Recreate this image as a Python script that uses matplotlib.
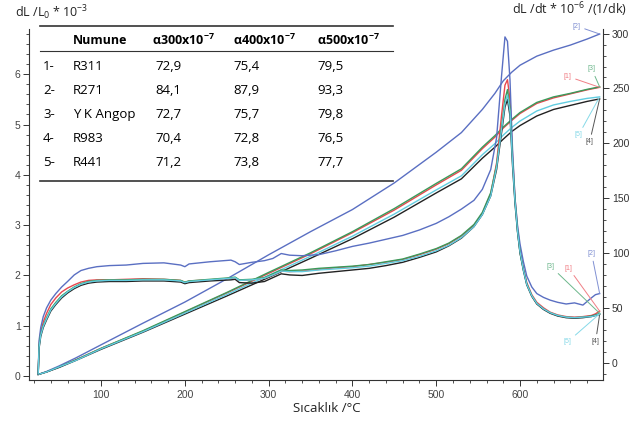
import matplotlib
matplotlib.use("Agg")
import matplotlib.pyplot as plt
from matplotlib.lines import Line2D
from matplotlib.ticker import MultipleLocator

# --- data ------------------------------------------------------------------
samples = ["R311", "R271", "Y K Angop", "R983", "R441"]
alpha300 = ["72,9", "84,1", "72,7", "70,4", "71,2"]
alpha400 = ["75,4", "87,9", "75,7", "72,8", "73,8"]
alpha500 = ["79,5", "93,3", "79,8", "76,5", "77,7"]

# thermal expansion dL/L0 (x10^-3), left axis
temp_exp = [25, 35, 50, 70, 100, 150, 200, 250, 300, 350, 400, 450, 500,
            530, 555, 570, 580, 590, 600, 620, 640, 660, 680, 695]
exp_r311 = [0.03, 0.08, 0.18, 0.32, 0.55, 0.89, 1.27, 1.65, 2.04, 2.43, 2.85, 3.3,
            3.8, 4.09, 4.52, 4.75, 4.93, 5.08, 5.22, 5.42, 5.53, 5.61, 5.69, 5.74]
exp_r271 = [0.03, 0.09, 0.2, 0.36, 0.62, 1.05, 1.47, 1.93, 2.41, 2.87, 3.31, 3.84,
            4.45, 4.84, 5.3, 5.62, 5.87, 6.04, 6.18, 6.36, 6.48, 6.58, 6.7, 6.8]
exp_ykangop = [0.03, 0.08, 0.18, 0.32, 0.55, 0.9, 1.28, 1.66, 2.06, 2.45, 2.87, 3.33,
               3.83, 4.12, 4.55, 4.78, 4.95, 5.1, 5.24, 5.44, 5.55, 5.62, 5.7, 5.75]
exp_r983 = [0.03, 0.08, 0.17, 0.31, 0.53, 0.87, 1.23, 1.59, 1.96, 2.34, 2.73, 3.16,
            3.64, 3.92, 4.33, 4.55, 4.71, 4.86, 4.98, 5.17, 5.3, 5.38, 5.46, 5.51]
exp_r441 = [0.03, 0.08, 0.18, 0.31, 0.54, 0.88, 1.25, 1.62, 2.0, 2.38, 2.78, 3.22,
            3.7, 3.98, 4.4, 4.62, 4.79, 4.94, 5.07, 5.27, 5.39, 5.46, 5.52, 5.55]

# expansion rate dL/dt (x10^-6 1/dk), right axis
temp_rate = [25, 26, 28, 31, 35, 40, 46, 53, 60, 68, 76, 85, 95, 110, 130, 150, 175,
             195, 200, 205, 230, 255, 260, 265, 280, 295, 305, 315, 325, 340, 360,
             380, 400, 420, 440, 460, 480, 500, 515, 530, 545, 555, 565, 572, 578,
             582, 585, 588, 591, 594, 597, 600, 604, 608, 614, 620, 628, 636, 645,
             655, 665, 675, 685, 690, 695]
rate_r311 = [-10, 16, 28, 37, 45, 53, 59, 64.5, 68, 71,
             73.5, 75, 75.5, 75.5, 76, 76.5, 76, 75, 73, 74.5,
             75.5, 77, 77.5, 75, 75.5, 77, 80, 83.5, 83, 83.5,
             85, 86.5, 87.5, 89.5, 91.5, 94, 98.5, 103.5, 108.5, 115.5,
             125, 136, 154, 182, 226, 253, 258, 240, 190, 150,
             123, 103, 86, 73, 62, 55, 50, 46, 43.5, 42,
             41.5, 42, 43, 44.5, 47]
rate_r271 = [-10, 20, 32, 42, 50, 57, 63, 69, 74, 80,
             84, 86, 87.5, 88.5, 89, 90.5, 91, 89, 87.5, 90,
             92, 93.5, 92, 89.5, 91.5, 93, 95, 99.5, 98, 97.5,
             98.5, 102, 106, 109, 112.5, 116, 121, 127, 133, 140,
             148, 158, 176, 205, 262, 297, 293, 258, 195, 150,
             125, 108, 92, 79, 69, 63, 59.5, 57, 55, 53.5,
             54.5, 52.5, 59, 62, 63]
rate_ykangop = [-10, 15, 26, 34, 41, 49, 55, 61, 65, 69,
                72, 74, 75, 75.5, 75.5, 76, 76, 75, 73.5, 74.5,
                76, 77.5, 78, 75.5, 76, 77.5, 81, 84.5, 84, 84.5,
                86, 87, 88, 89.5, 92, 94.5, 99, 104, 109, 116,
                126, 137, 155, 180, 215, 240, 249, 232, 185, 148,
                120, 100, 85, 72, 61, 54, 49, 45.5, 43, 41.5,
                41, 41.5, 42.5, 43.5, 45]
rate_r983 = [-10, 13, 24, 32, 39, 47, 53, 59, 63.5, 67.5,
             70.5, 72.5, 73.5, 74, 74, 74.5, 74.5, 73.5, 72, 73,
             74.5, 75.5, 76, 73, 72.5, 74, 77.5, 81, 80, 79.5,
             81.5, 83, 84.5, 86, 88.5, 91.5, 96, 101, 106.5, 113.5,
             124, 135, 152, 176, 210, 233, 240, 225, 180, 145,
             119, 100, 84, 71, 60.5, 53.5, 48.5, 45, 42.5, 41,
             40.5, 41, 42, 43, 44]
rate_r441 = [-10, 14, 25, 33, 40, 48, 54, 60, 64.5, 68.5,
             71.5, 73.5, 74.5, 75, 75, 75.5, 75.5, 74.5, 73, 74,
             75.5, 77, 77.5, 75, 75.5, 77, 80, 83.5, 83, 83,
             84.5, 85.5, 86.5, 88, 90.5, 93, 97, 102, 107, 114,
             124, 135, 152, 178, 213, 236, 244, 229, 183, 147,
             120, 101, 84.5, 71.5, 61, 54, 49, 45.5, 43, 41.5,
             41, 41.5, 42, 43, 44.5]

exp_series = [exp_r311, exp_r271, exp_ykangop, exp_r983, exp_r441]
rate_series = [rate_r311, rate_r271, rate_ykangop, rate_r983, rate_r441]
colors = ["#e8474f", "#5a6fc2", "#3a9a5a", "#222222", "#62cde0"]
label_colors = ["#f07f85", "#8090d2", "#6db78c", "#555555", "#86d9e8"]
# label offsets (pixels) from the curve ends
exp_offsets = [(-32, 11), (-23, 8), (-8, 18), (-10, -43), (-21, -38)]
rate_offsets = [(-31, 43), (-8, 40), (-49, 47), (-4, -27), (-32, -28)]

plt.rcParams["font.family"] = ["Open Sans", "DejaVu Sans"]
plt.rcParams["mathtext.fontset"] = "custom"
plt.rcParams["mathtext.rm"] = "Open Sans"
plt.rcParams["mathtext.bf"] = "Open Sans:bold"
plt.rcParams["mathtext.default"] = "regular"

W, H = 630, 421
fig = plt.figure(figsize=(W / 100, H / 100), dpi=100)
ax = fig.add_axes([29 / W, 1 - 380 / H, (603 - 29) / W, (380 - 29) / H])
ax2 = ax.twinx()

ax.set_xlim(14, 699)
ax.set_ylim(-0.08, 6.9)
ax2.set_ylim(-15.8, 304.2)

for vals, c in zip(exp_series, colors):
    ax.plot(temp_exp, vals, color=c, lw=1.0)
for vals, c in zip(rate_series, colors):
    ax2.plot(temp_rate, vals, color=c, lw=1.0)

# numbered curve labels with leader lines
for i, (vals, lc, off) in enumerate(zip(exp_series, label_colors, exp_offsets)):
    ax.annotate(f"[{i + 1}]", xy=(temp_exp[-1], vals[-1]), xytext=off,
                textcoords="offset pixels", fontsize=5, color=lc,
                ha="center", va="center", family="Liberation Sans",
                arrowprops=dict(arrowstyle="-", color=lc, lw=0.7,
                                shrinkA=1, shrinkB=0))
for i, (vals, lc, off) in enumerate(zip(rate_series, label_colors, rate_offsets)):
    ax2.annotate(f"[{i + 1}]", xy=(temp_rate[-1], vals[-1]), xytext=off,
                 textcoords="offset pixels", fontsize=5, color=lc,
                 ha="center", va="center", family="Liberation Sans",
                 arrowprops=dict(arrowstyle="-", color=lc, lw=0.7,
                                 shrinkA=1, shrinkB=0))

# axes styling
for a in (ax, ax2):
    a.spines["top"].set_visible(False)
    for s in a.spines.values():
        s.set_linewidth(0.8)
        s.set_color("#333333")
ax.spines["right"].set_visible(False)
ax2.spines["left"].set_visible(False)
ax2.spines["bottom"].set_visible(False)

ax.xaxis.set_major_locator(MultipleLocator(100))
ax.xaxis.set_minor_locator(MultipleLocator(20))
ax.yaxis.set_major_locator(MultipleLocator(1))
ax.yaxis.set_minor_locator(MultipleLocator(0.2))
ax2.yaxis.set_major_locator(MultipleLocator(50))
ax2.yaxis.set_minor_locator(MultipleLocator(10))

for a in (ax, ax2):
    a.tick_params(which="major", length=4, width=0.7, color="#333333",
                  labelsize=7.5, labelcolor="#444444", pad=2)
    a.tick_params(which="minor", length=2, width=0.6, color="#333333")
    for lab in a.get_xticklabels() + a.get_yticklabels():
        lab.set_family("Liberation Sans")
ax2.tick_params(axis="y", labelsize=7.5, labelcolor="#333333", pad=2.5)
ax.tick_params(axis="x", pad=3)

# axis titles
fig.text(15 / W, 1 - 13 / H, r"dL /L$_0$ * 10$^{-3}$", fontsize=9,
         ha="left", va="center", color="#222222")
fig.text(627 / W, 1 - 10 / H, r"dL /dt * 10$^{-6}$ /(1/dk)", fontsize=9,
         ha="right", va="center", color="#222222")
fig.text(327 / W, 1 - 408 / H, "Sıcaklık /°C", fontsize=9.5,
         ha="center", va="center", color="#222222")

# table of expansion coefficients
def fx(px):
    return px / W


def fy(py):
    return 1 - py / H


for py in (26, 51, 181):
    fig.add_artist(Line2D([fx(40), fx(393)], [fy(py), fy(py)], color="#333333",
                          lw=1.2 if py != 51 else 0.8, transform=fig.transFigure))

fig.text(fx(73), fy(40), "Numune", fontsize=9, fontweight="bold",
         ha="left", va="center")
for x0, t in zip((152, 233, 317), ("300", "400", "500")):
    fig.text(fx(x0), fy(40), "α" + t + r"x10$^{\mathbf{-7}}$", fontsize=9,
             fontweight="bold", ha="left", va="center")

row_y = [66, 90, 114.5, 139, 163]
for i, py in enumerate(row_y):
    fig.text(fx(43), fy(py), f"{i + 1}-", fontsize=9.5, ha="left", va="center")
    fig.text(fx(73), fy(py), samples[i], fontsize=9.5, ha="left", va="center")
    fig.text(fx(155), fy(py), alpha300[i], fontsize=9.5, ha="left", va="center")
    fig.text(fx(233), fy(py), alpha400[i], fontsize=9.5, ha="left", va="center")
    fig.text(fx(317), fy(py), alpha500[i], fontsize=9.5, ha="left", va="center")

fig.savefig("out.png", dpi=100)
